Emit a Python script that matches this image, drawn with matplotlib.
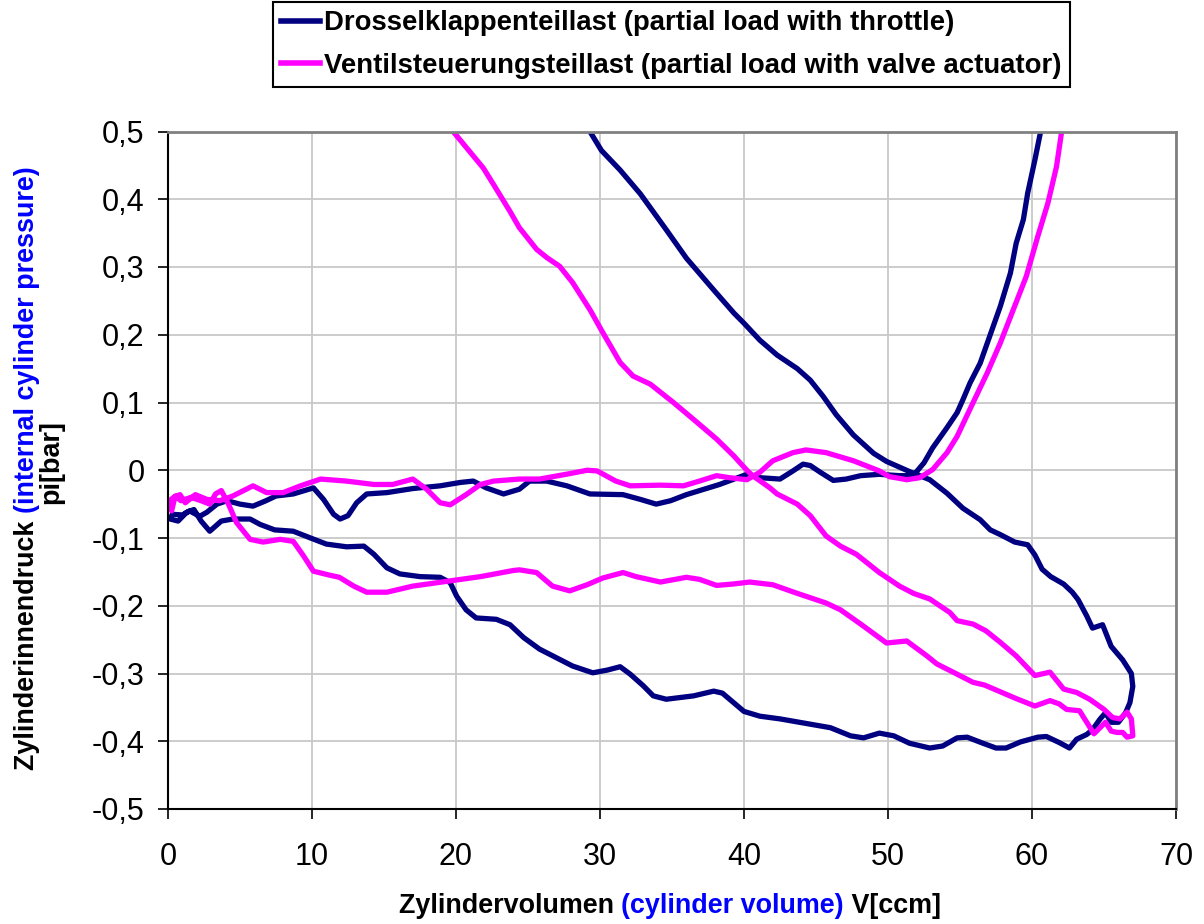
import matplotlib
matplotlib.use("Agg")
import matplotlib.pyplot as plt
from matplotlib.font_manager import FontProperties
from matplotlib.lines import Line2D

plt.rcParams['font.family'] = ['Liberation Sans', 'DejaVu Sans']

# Drosselklappenteillast: ein durchgehender Linienzug (V in ccm, p in bar)
drossel_v = [29.3, 30.1, 31.4, 32.8, 34.6, 36.0, 37.9, 39.3, 40.0, 41.1, 42.3, 43.7, 44.6,
             45.5, 46.4, 47.6, 49.0, 49.9, 51.5, 52.9, 54.1, 55.2, 56.4, 57.1, 57.8, 58.8,
             59.7, 60.2, 60.7, 61.3, 62.2, 62.8, 63.2, 63.8, 64.2, 64.9, 65.5, 66.3, 66.9,
             67.0, 66.8, 66.5, 66.0, 65.5, 65.1, 64.7, 64.2, 63.8, 63.1, 62.6, 61.9, 61.0,
             60.4, 59.2, 58.2, 57.5, 56.6, 55.5, 54.8, 53.8, 52.9, 51.5, 50.4, 49.4, 48.3,
             47.4, 46.0, 44.4, 42.5, 41.1, 40.0, 38.5, 37.9, 36.5, 34.6, 33.7, 33.0, 32.1,
             31.4, 30.5, 29.5, 28.1, 27.0, 25.8, 24.7, 23.75, 22.8, 21.4, 20.7, 20.05, 19.6,
             18.9, 17.5, 16.1, 15.2, 14.3, 13.6, 12.4, 11.0, 9.9, 8.7, 7.4, 6.4, 5.7, 4.5,
             3.7, 2.9, 2.3, 1.8, 1.3, 0.7, 0.15, 0.3, 1.0, 1.5, 2.2, 2.7, 3.4, 4.1, 5.0,
             5.9, 6.8, 7.5, 8.7, 10.1, 10.8, 11.5, 11.95, 12.5, 13.1, 13.8, 15.2, 17.0,
             18.9, 20.3, 21.2, 22.1, 23.3, 24.4, 25.1, 26.3, 27.7, 29.3, 31.6, 32.8, 33.9,
             34.9, 36.0, 38.3, 40.2, 41.1, 42.5, 43.4, 44.1, 44.6, 45.3, 46.2, 47.1, 48.1,
             49.4, 50.8, 51.75, 52.5, 53.1, 54.1, 54.8, 55.2, 55.7, 56.4, 57.8, 58.5, 58.9,
             59.4, 59.7, 60.2, 60.6]
drossel_p = [0.5, 0.472, 0.443, 0.408, 0.355, 0.313, 0.266, 0.232, 0.217, 0.192, 0.170,
             0.150, 0.133, 0.109, 0.082, 0.052, 0.025, 0.013, -0.002, -0.014, -0.034,
             -0.056, -0.073, -0.088, -0.095, -0.106, -0.11, -0.125, -0.146, -0.157, -0.168,
             -0.18, -0.191, -0.215, -0.233, -0.228, -0.26, -0.28, -0.30, -0.319, -0.343,
             -0.358, -0.372, -0.372, -0.358, -0.368, -0.383, -0.39, -0.397, -0.41, -0.402,
             -0.393, -0.394, -0.401, -0.41, -0.41, -0.403, -0.394, -0.395, -0.407, -0.41,
             -0.403, -0.392, -0.388, -0.395, -0.392, -0.380, -0.374, -0.367, -0.363, -0.356,
             -0.329, -0.326, -0.333, -0.338, -0.333, -0.318, -0.301, -0.290, -0.295, -0.299,
             -0.289, -0.277, -0.264, -0.247, -0.228, -0.22, -0.218, -0.206, -0.186, -0.166,
             -0.158, -0.157, -0.153, -0.144, -0.124, -0.112, -0.113, -0.109, -0.1, -0.09,
             -0.088, -0.08, -0.072, -0.072, -0.075, -0.09, -0.075, -0.058, -0.062, -0.075,
             -0.072, -0.065, -0.066, -0.06, -0.068, -0.062, -0.05, -0.045, -0.05, -0.053,
             -0.045, -0.038, -0.035, -0.026, -0.043, -0.065, -0.072, -0.067, -0.048, -0.035,
             -0.033, -0.027, -0.023, -0.018, -0.016, -0.026, -0.035, -0.028, -0.016, -0.016,
             -0.023, -0.035, -0.036, -0.043, -0.05, -0.045, -0.036, -0.021, -0.006, -0.011,
             -0.013, -0.001, 0.009, 0.007, -0.003, -0.015, -0.013, -0.008, -0.006, -0.008,
             -0.008, 0.011, 0.033, 0.063, 0.085, 0.104, 0.129, 0.158, 0.242, 0.291, 0.335,
             0.37, 0.409, 0.458, 0.5]

# Ventilsteuerungsteillast
ventil_v = [19.8, 21.4, 21.9, 22.6, 23.75, 24.4, 25.6, 26.3, 27.2, 28.1, 29.3, 30.2, 31.4,
            32.3, 33.5, 35.1, 36.5, 38.1, 39.3, 40.2, 40.6, 41.8, 42.3, 43.7, 44.6, 45.7,
            46.7, 47.8, 49.4, 50.8, 51.8, 52.9, 54.3, 54.8, 55.9, 56.8, 57.8, 58.9, 60.2,
            61.25, 62.2, 63.1, 64.0, 65.0, 65.6, 66.1, 66.6, 66.9, 67.0, 66.6, 66.3, 65.9,
            65.5, 65.1, 64.3, 63.8, 63.3, 62.4, 61.9, 61.25, 60.2, 58.9, 57.8, 56.7, 55.9,
            54.8, 53.4, 52.7, 51.3, 49.9, 48.1, 46.7, 45.7, 43.6, 42.0, 40.4, 39.2, 38.1,
            36.9, 36.0, 34.2, 32.5, 31.6, 30.2, 29.1, 27.9, 26.7, 25.6, 24.4, 23.97, 21.7,
            19.35, 17.0, 15.2, 13.8, 12.9, 11.9, 11.25, 10.1, 9.4, 8.7, 7.8, 6.6, 5.7, 4.75,
            4.2, 3.7, 3.3, 2.9, 2.3, 1.6, 0.9, 0.5, 0.25, 0.1, 0.4, 0.83, 1.2, 1.9, 2.7,
            3.6, 4.5, 5.9, 6.85, 8.0, 9.2, 10.6, 12.4, 14.3, 15.6, 17.0, 17.96, 18.9, 19.6,
            20.7, 21.7, 22.6, 24.4, 25.8, 27.9, 29.1, 29.8, 31.1, 32.1, 34.2, 35.8, 36.9,
            38.1, 39.0, 40.2, 41.1, 42.0, 43.4, 44.3, 45.7, 47.6, 49.4, 50.1, 50.8, 51.3,
            52.2, 53.1, 54.1, 54.8, 55.8, 56.9, 57.8, 58.7, 59.6, 60.4, 61.1, 61.7, 62.06]
ventil_p = [0.5, 0.459, 0.446, 0.422, 0.382, 0.358, 0.326, 0.314, 0.301, 0.277, 0.237,
            0.203, 0.159, 0.139, 0.127, 0.1, 0.075, 0.046, 0.021, 0.0, -0.008, -0.026,
            -0.035, -0.05, -0.067, -0.097, -0.112, -0.124, -0.151, -0.171, -0.182, -0.19,
            -0.21, -0.222, -0.227, -0.237, -0.254, -0.274, -0.303, -0.298, -0.323, -0.328,
            -0.338, -0.353, -0.365, -0.367, -0.357, -0.367, -0.392, -0.394, -0.387, -0.387,
            -0.385, -0.372, -0.389, -0.372, -0.355, -0.353, -0.345, -0.34, -0.348, -0.337,
            -0.327, -0.317, -0.313, -0.301, -0.286, -0.274, -0.252, -0.255, -0.227, -0.206,
            -0.196, -0.181, -0.169, -0.165, -0.168, -0.17, -0.161, -0.158, -0.165, -0.157,
            -0.151, -0.159, -0.169, -0.178, -0.171, -0.151, -0.147, -0.148, -0.157, -0.164,
            -0.171, -0.18, -0.18, -0.171, -0.158, -0.155, -0.149, -0.126, -0.105, -0.102,
            -0.106, -0.102, -0.077, -0.05, -0.03, -0.035, -0.05, -0.045, -0.04, -0.045,
            -0.038, -0.06, -0.045, -0.04, -0.036, -0.048, -0.036, -0.043, -0.045, -0.038,
            -0.023, -0.033, -0.033, -0.023, -0.013, -0.016, -0.021, -0.021, -0.013, -0.028,
            -0.048, -0.051, -0.036, -0.021, -0.016, -0.013, -0.013, -0.005, 0.0, -0.001,
            -0.016, -0.023, -0.022, -0.023, -0.016, -0.008, -0.011, -0.014, -0.003, 0.014,
            0.026, 0.03, 0.026, 0.014, -0.001, -0.0095, -0.012, -0.014, -0.011, 0.001, 0.026,
            0.05, 0.095, 0.144, 0.188, 0.237, 0.286, 0.345, 0.394, 0.448, 0.5]

x_ticks = [0, 10, 20, 30, 40, 50, 60, 70]
y_ticks = [-0.5, -0.4, -0.3, -0.2, -0.1, 0.0, 0.1, 0.2, 0.3, 0.4, 0.5]
y_ticklabels = ['-0,5', '-0,4', '-0,3', '-0,2', '-0,1', '0', '0,1', '0,2', '0,3', '0,4', '0,5']

label_drossel = 'Drosselklappenteillast (partial load with throttle)'
label_ventil = 'Ventilsteuerungsteillast (partial load with valve actuator)'

NAVY = '#000080'
MAGENTA = '#FF00FF'
BLUE = '#0000FF'

W, H = 1204, 924
fig = plt.figure(figsize=(W / 100, H / 100), dpi=100)
ax = fig.add_axes([168 / W, 1 - 809 / H, (1176 - 168) / W, (809 - 131.5) / H])

ax.plot(drossel_v, drossel_p, color=NAVY, lw=3.8, solid_joinstyle='round', solid_capstyle='round')
ax.plot(ventil_v, ventil_p, color=MAGENTA, lw=3.8, solid_joinstyle='round', solid_capstyle='round')

ax.set_xlim(0, 70)
ax.set_ylim(-0.5, 0.5)
ax.set_xticks(x_ticks)
ax.set_yticks(y_ticks)
ax.set_yticklabels(y_ticklabels)
ax.grid(True, color='#C8C8C8', lw=1.3)
ax.set_axisbelow(True)
for s in ['top', 'right']:
    ax.spines[s].set_color('#808080')
    ax.spines[s].set_linewidth(2)
for s in ['left', 'bottom']:
    ax.spines[s].set_color('black')
    ax.spines[s].set_linewidth(1.5)
ax.tick_params(axis='both', direction='out', length=7, width=1.2, labelsize=22)
ax.tick_params(axis='y', pad=10)
ax.tick_params(axis='x', pad=17)

# Legende oben
handles = [Line2D([], [], color=NAVY, lw=4), Line2D([], [], color=MAGENTA, lw=4)]
leg = fig.legend(handles, [label_drossel, label_ventil], loc='upper left',
                 bbox_to_anchor=(273 / W, 1 - 2 / H), fancybox=False, framealpha=1,
                 edgecolor='black', prop=dict(weight='bold', size=19.8),
                 handlelength=1.4, handletextpad=0.15, borderpad=0.3, labelspacing=0.6,
                 borderaxespad=0)
leg.get_frame().set_linewidth(1.5)

# mehrfarbige Achsentitel
fp = FontProperties(family=['Liberation Sans', 'DejaVu Sans'], weight='bold', size=19.4)
renderer = fig.canvas.get_renderer()


def width_of(s):
    w1 = renderer.get_text_width_height_descent(s + 'l', fp, ismath=False)[0]
    w2 = renderer.get_text_width_height_descent('l', fp, ismath=False)[0]
    return w1 - w2


def colored_label(parts, cx, cy, rotation=0):
    # cx, cy in Pixeln von oben links; Basislinie bei cy (horizontal) bzw. cx (vertikal)
    full = ''.join(p for p, c in parts)
    total = width_of(full)
    prefix = ''
    for s, c in parts:
        off = width_of(prefix) - total / 2
        if rotation:
            x, y = cx, (H - cy) + off
        else:
            x, y = cx + off, H - cy
        fig.text(x / W, y / H, s, color=c, fontproperties=fp, rotation=rotation,
                 rotation_mode='anchor', ha='left', va='baseline')
        prefix += s


colored_label([('Zylindervolumen ', 'black'), ('(cylinder volume)', BLUE), (' V[ccm]', 'black')],
              670, 913)
colored_label([('Zylinderinnendruck ', 'black'), ('(internal cylinder pressure)', BLUE)],
              34, 468, rotation=90)
colored_label([('pi[bar]', 'black')], 58, 462, rotation=90)

fig.savefig('out.png', dpi=100)
